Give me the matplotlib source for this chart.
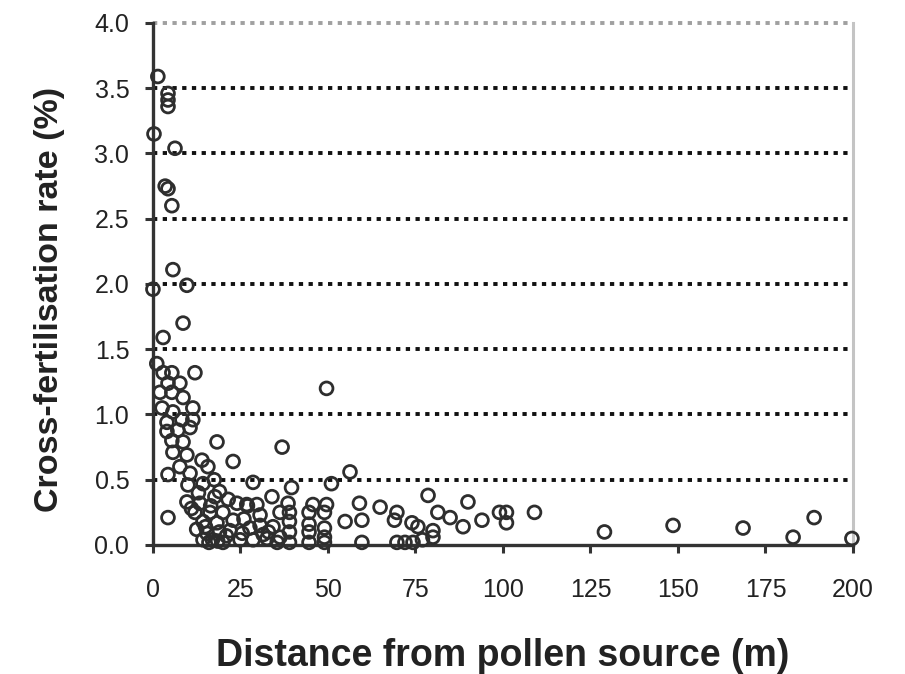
import matplotlib.pyplot as plt

# distance (m) and cross-fertilisation rate (%)
distance = [
    1.4, 4.3, 4.3, 4.3, 0.3, 6.3, 3.5, 4.3, 5.4, 5.7, 9.7, 0.0, 8.6, 2.9,
    1.1, 2.9, 5.4, 12.0, 4.3, 7.7, 2.0, 5.4, 8.6, 11.4, 2.6, 5.7, 8.3, 11.4,
    4.0, 4.0, 7.1, 10.6, 18.3, 36.9, 5.4, 8.6, 5.7, 9.7, 14.0, 22.9, 15.7,
    7.7, 4.3, 10.6, 28.6, 10.0, 14.3, 19.0, 17.7, 9.7, 13.4, 24.0, 26.8,
    29.7, 34.0, 4.3, 12.0, 16.3, 20.0, 14.3, 18.3, 22.9, 30.6, 36.3, 15.4,
    19.0, 22.0, 27.7, 30.6, 34.3, 14.3, 17.0, 20.0, 24.9, 28.6, 32.6, 36.3,
    49.6, 56.3, 51.0, 39.6, 78.6, 90.0, 38.6, 45.7, 49.6, 59.0, 64.9, 69.7,
    81.4, 84.9, 99.0, 109.0, 94.0, 101.0, 101.0, 54.9, 59.7, 69.0, 74.0,
    88.6, 80.0, 39.0, 39.0, 39.0, 39.0, 44.6, 44.6, 44.6, 44.6, 49.0, 49.0,
    49.0, 49.0, 59.7, 69.7, 72.0, 74.3, 77.0, 80.0, 75.7,
    129.0, 148.6, 168.6, 182.9, 188.9, 199.7,
    12.5, 15.0, 16.5, 21.0, 25.5, 13.0, 17.5, 26.0, 31.5, 11.0, 16.0, 21.5,
    33.0, 35.5, 27.0, 18.5,
]
rate = [
    3.59, 3.46, 3.41, 3.36, 3.15, 3.04, 2.75, 2.73, 2.60, 2.11, 1.99, 1.96,
    1.70, 1.59,
    1.39, 1.32, 1.32, 1.32, 1.24, 1.24, 1.17, 1.17, 1.13, 1.05, 1.05, 1.02,
    0.96, 0.96, 0.94, 0.87, 0.88, 0.90, 0.79, 0.75, 0.80, 0.79, 0.71, 0.69,
    0.65, 0.64, 0.60, 0.60, 0.54, 0.55, 0.48, 0.46, 0.47, 0.41, 0.37, 0.33,
    0.32, 0.32, 0.31, 0.31, 0.37, 0.21, 0.25, 0.25, 0.25, 0.18, 0.17, 0.19,
    0.23, 0.25, 0.09, 0.10, 0.11, 0.13, 0.15, 0.14, 0.04, 0.04, 0.02, 0.04,
    0.04, 0.05, 0.06,
    1.20, 0.56, 0.47, 0.44, 0.38, 0.33, 0.32, 0.31, 0.31, 0.32, 0.29, 0.25,
    0.25, 0.21, 0.25, 0.25, 0.19, 0.25, 0.17, 0.18, 0.19, 0.19, 0.17, 0.14,
    0.11, 0.25, 0.18, 0.10, 0.02, 0.25, 0.16, 0.10, 0.02, 0.25, 0.13, 0.06,
    0.02, 0.02, 0.02, 0.02, 0.02, 0.04, 0.06, 0.14,
    0.10, 0.15, 0.13, 0.06, 0.21, 0.05,
    0.12, 0.14, 0.30, 0.07, 0.09, 0.40, 0.50, 0.20, 0.08, 0.28, 0.02, 0.35,
    0.10, 0.02, 0.30, 0.03,
]
x_ticks = [0, 25, 50, 75, 100, 125, 150, 175, 200]
y_ticks = [0.0, 0.5, 1.0, 1.5, 2.0, 2.5, 3.0, 3.5, 4.0]

plt.rcParams['font.family'] = ['Liberation Sans', 'DejaVu Sans']

fig = plt.figure(figsize=(9.05, 6.74), dpi=100)
ax = fig.add_axes([0.169, 0.1914, 0.7735, 0.7745])

for y in y_ticks[1:-1]:
    ax.axhline(y, color='#111111', lw=2.8, linestyle=(0, (1.1, 1.4)), zorder=1)
ax.axhline(4.0, color='#a0a0a0', lw=2.8, linestyle=(0, (1.1, 1.4)), zorder=1,
           clip_on=False)

ax.scatter(distance, rate, s=85, facecolors='none', edgecolors='#2e2e2e',
           linewidths=2.0, zorder=3, clip_on=False)

ax.set_xlim(0, 200)
ax.set_ylim(0, 4.0)
ax.set_xticks(x_ticks)
ax.set_yticks(y_ticks)
ax.set_yticklabels([f'{v:.1f}' for v in y_ticks])

ax.spines['top'].set_visible(False)
ax.spines['right'].set_color('#c4c4c4')
ax.spines['right'].set_linewidth(2.2)
for s in ['left', 'bottom']:
    ax.spines[s].set_color('#333333')
    ax.spines[s].set_linewidth(2.4)

ax.tick_params(axis='both', direction='out', length=6, width=2.2, color='#333333',
               labelsize=18, labelcolor='#222222')
ax.tick_params(axis='y', pad=11)
ax.tick_params(axis='x', pad=18)

ax.set_xlabel('Distance from pollen source (m)', fontsize=27, fontweight='bold',
              color='#222222')
ax.xaxis.set_label_coords(0.5, -0.178)
ax.set_ylabel('Cross-fertilisation rate (%)', fontsize=24.5, fontweight='bold',
              color='#222222')
ax.yaxis.set_label_coords(-0.126, 0.47)

fig.savefig('out.png', dpi=100)
